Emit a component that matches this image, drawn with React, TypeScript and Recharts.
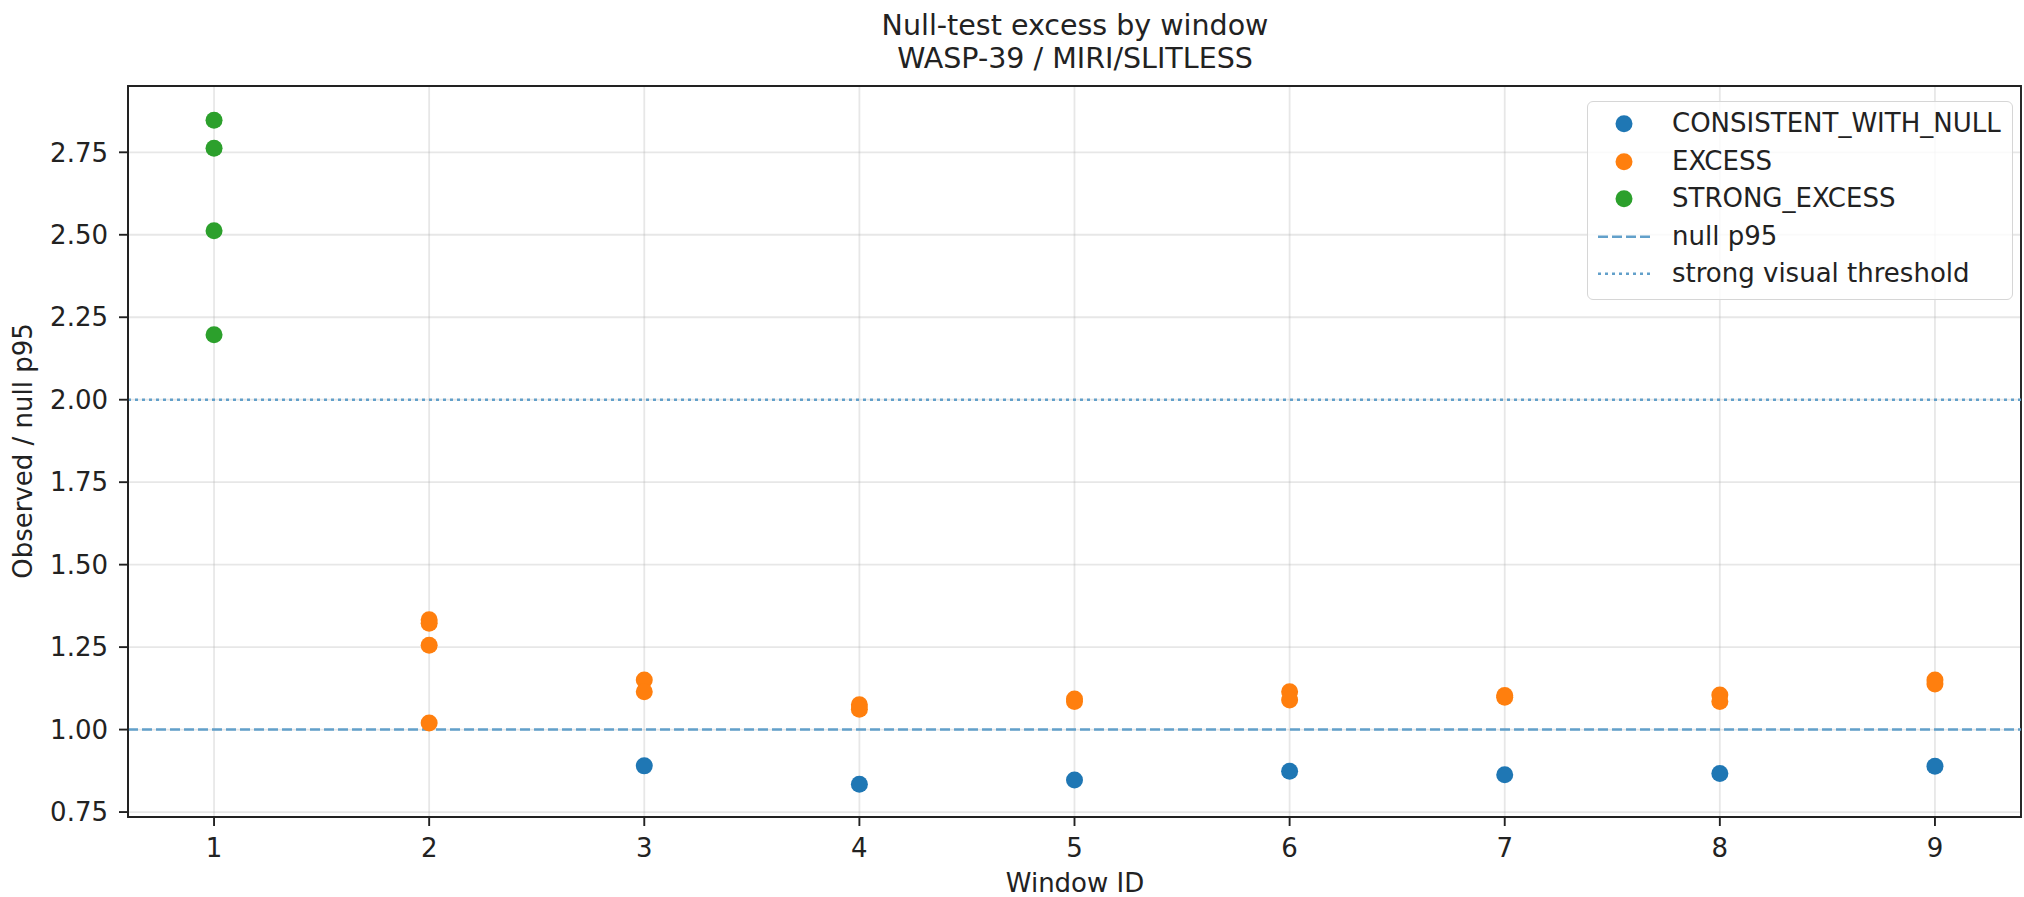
import React from 'react';
import {
  ScatterChart,
  Scatter,
  XAxis,
  YAxis,
  CartesianGrid,
  ReferenceLine,
  ReferenceArea,
} from 'recharts';

// window ids on the x axis
const windowTicks = [1, 2, 3, 4, 5, 6, 7, 8, 9];
const ratioTicks = [0.75, 1.0, 1.25, 1.5, 1.75, 2.0, 2.25, 2.5, 2.75];

// CONSISTENT_WITH_NULL
const consistentWindows = [3, 4, 5, 6, 7, 8, 9];
const consistentRatios = [0.89, 0.834, 0.847, 0.874, 0.863, 0.867, 0.889];

// EXCESS
const excessWindows = [2, 2, 2, 2, 3, 3, 4, 4, 5, 5, 6, 6, 7, 7, 8, 8, 9, 9];
const excessRatios = [
  1.333, 1.322, 1.256, 1.02, 1.15, 1.115, 1.075, 1.062, 1.093, 1.085, 1.115, 1.09, 1.103,
  1.098, 1.105, 1.085, 1.15, 1.138,
];

// STRONG_EXCESS
const strongWindows = [1, 1, 1, 1];
const strongRatios = [2.847, 2.762, 2.512, 2.197];

const nullP95 = 1.0;
const strongThreshold = 2.0;

const X_DOMAIN: [number, number] = [0.6, 9.4];
const Y_DOMAIN: [number, number] = [0.735, 2.951];

const BLUE = '#1f77b4';
const ORANGE = '#ff7f0e';
const GREEN = '#2ca02c';
const LINE_BLUE = '#62a0ca';
const FONT = '"DejaVu Sans", sans-serif';
const TEXT = '#222222';
const FS = 26;

const toPoints = (ws: number[], rs: number[]) => ws.map((w, i) => ({ window: w, ratio: rs[i] }));

const consistentData = toPoints(consistentWindows, consistentRatios);
const excessData = toPoints(excessWindows, excessRatios);
const strongData = toPoints(strongWindows, strongRatios);

const legendItems = [
  { label: 'CONSISTENT_WITH_NULL', color: BLUE, kind: 'dot' },
  { label: 'EXCESS', color: ORANGE, kind: 'dot' },
  { label: 'STRONG_EXCESS', color: GREEN, kind: 'dot' },
  { label: 'null p95', color: LINE_BLUE, kind: 'dash' },
  { label: 'strong visual threshold', color: LINE_BLUE, kind: 'dot-line' },
];

const dot = (color: string) => (props: any) => (
  <circle cx={props.cx} cy={props.cy} r={8.5} fill={color} />
);

function Legend() {
  return (
    <div
      style={{
        position: 'absolute',
        left: 1587,
        top: 101,
        width: 426,
        height: 199,
        boxSizing: 'border-box',
        border: '1.9px solid #d6d6d6',
        borderRadius: 6,
        background: 'rgba(255,255,255,0.8)',
        fontFamily: FONT,
        fontSize: FS,
        color: TEXT,
      }}
    >
      {legendItems.map((item, i) => (
        <div
          key={item.label}
          style={{ position: 'absolute', left: 0, top: 3 + i * 37.5, height: 37.5, width: '100%' }}
        >
          <svg width={74} height={37.5} style={{ position: 'absolute', left: 0, top: 0 }}>
            {item.kind === 'dot' && <circle cx={36} cy={18.75} r={8.5} fill={item.color} />}
            {item.kind === 'dash' && (
              <line x1={10} x2={62} y1={18.75} y2={18.75} stroke={item.color} strokeWidth={2.5} strokeDasharray="10 4" />
            )}
            {item.kind === 'dot-line' && (
              <line x1={10} x2={62} y1={18.75} y2={18.75} stroke={item.color} strokeWidth={2.5} strokeDasharray="3 4" />
            )}
          </svg>
          <span style={{ position: 'absolute', left: 84, top: 0, lineHeight: '37.5px', whiteSpace: 'nowrap' }}>
            {item.label}
          </span>
        </div>
      ))}
    </div>
  );
}

export default function App() {
  return (
    <div style={{ position: 'relative', width: 2024, height: 897, background: '#fff', fontFamily: FONT }}>
      <style>{'body{margin:0}'}</style>
      <div
        style={{
          position: 'absolute',
          left: 0,
          top: 9,
          width: 2150,
          textAlign: 'center',
          fontSize: 28.5,
          lineHeight: '33px',
          color: TEXT,
        }}
      >
        <div>Null-test excess by window</div>
        <div>WASP-39 / MIRI/SLITLESS</div>
      </div>

      <ScatterChart width={2024} height={897} margin={{ top: 86, right: 3, bottom: 20, left: 8 }}>
        <CartesianGrid stroke="#b0b0b0" strokeOpacity={0.3} strokeWidth={1.8} />
        <XAxis
          type="number"
          dataKey="window"
          domain={X_DOMAIN}
          ticks={windowTicks}
          allowDataOverflow
          height={60}
          tickSize={9}
          tickMargin={13}
          axisLine={{ stroke: TEXT, strokeWidth: 1.9 }}
          tickLine={{ stroke: TEXT, strokeWidth: 1.9 }}
          tick={{ fill: TEXT, fontSize: FS, fontFamily: FONT }}
        />
        <YAxis
          type="number"
          dataKey="ratio"
          domain={Y_DOMAIN}
          ticks={ratioTicks}
          allowDataOverflow
          width={120}
          tickSize={9}
          tickMargin={11}
          tickFormatter={(v: number) => v.toFixed(2)}
          axisLine={{ stroke: TEXT, strokeWidth: 1.9 }}
          tickLine={{ stroke: TEXT, strokeWidth: 1.9 }}
          tick={{ fill: TEXT, fontSize: FS, fontFamily: FONT }}
        />
        <Scatter data={consistentData} fill={BLUE} shape={dot(BLUE)} isAnimationActive={false} />
        <Scatter data={excessData} fill={ORANGE} shape={dot(ORANGE)} isAnimationActive={false} />
        <Scatter data={strongData} fill={GREEN} shape={dot(GREEN)} isAnimationActive={false} />
        <ReferenceLine y={nullP95} stroke={LINE_BLUE} strokeWidth={2.5} strokeDasharray="10 4" />
        <ReferenceLine y={strongThreshold} stroke={LINE_BLUE} strokeWidth={2.5} strokeDasharray="3 4" />
        <ReferenceArea
          x1={X_DOMAIN[0]}
          x2={X_DOMAIN[1]}
          y1={Y_DOMAIN[0]}
          y2={Y_DOMAIN[1]}
          fill="none"
          stroke={TEXT}
          strokeWidth={1.9}
          ifOverflow="visible"
        />
      </ScatterChart>

      <div
        style={{
          position: 'absolute',
          left: 1075,
          top: 868,
          transform: 'translateX(-50%)',
          fontSize: FS,
          lineHeight: '30px',
          color: TEXT,
          whiteSpace: 'nowrap',
        }}
      >
        Window ID
      </div>
      <div
        style={{
          position: 'absolute',
          left: 23,
          top: 451,
          transform: 'translate(-50%, -50%) rotate(-90deg)',
          fontSize: FS,
          lineHeight: '30px',
          color: TEXT,
          whiteSpace: 'nowrap',
        }}
      >
        Observed / null p95
      </div>

      <Legend />
    </div>
  );
}
